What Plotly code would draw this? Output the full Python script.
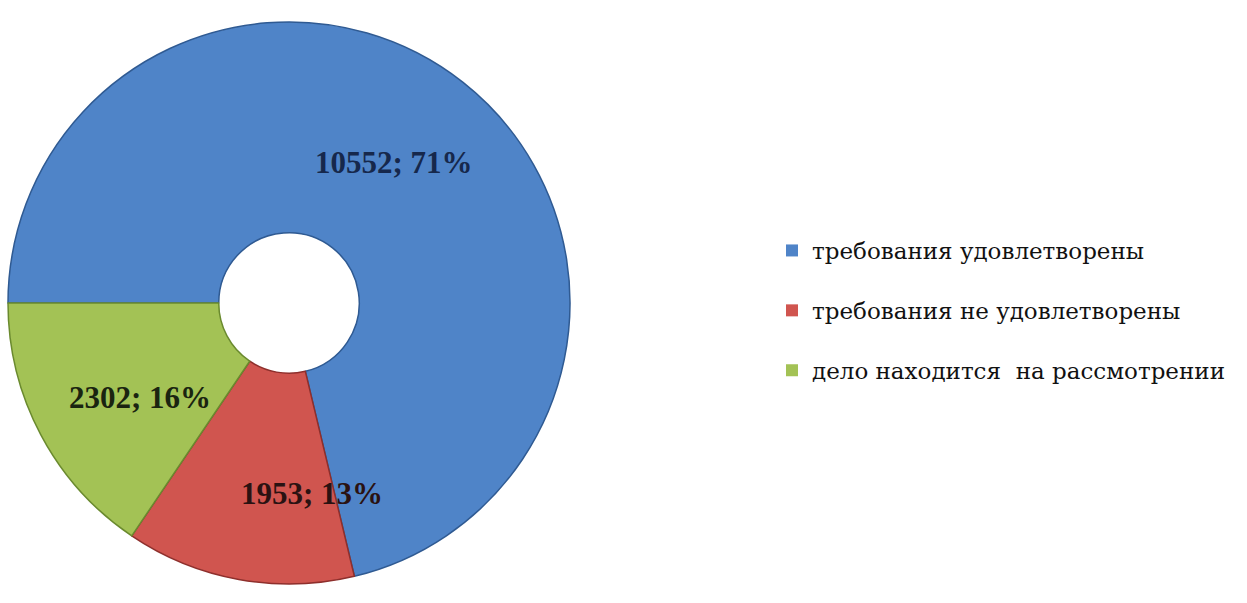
import plotly.graph_objects as go

# Case outcomes
categories = ["требования удовлетворены",
              "требования не удовлетворены",
              "дело находится\u00a0 на рассмотрении"]
counts = [10552, 1953, 2302]
colors = ["#4f84c8", "#d0554f", "#a3c255"]
edge_colors = ["#2f5a92", "#8e2f2c", "#6a8a2e"]
label_colors = ["#16284c", "#2a1212", "#1a2410"]

total = sum(counts)
labels_text = [f"{v}; {round(v / total * 100)}%" for v in counts]

W, H = 1247, 603
SERIF = "Liberation Serif, Times New Roman, serif"
LEGEND_FONT = "DejaVu Serif, serif"

fig = go.Figure()
fig.add_trace(go.Pie(
    labels=categories,
    values=counts,
    hole=0.25,
    sort=False,
    direction="clockwise",
    rotation=270,
    marker=dict(colors=colors, line=dict(color=edge_colors, width=1.5)),
    textinfo="none",
    hoverinfo="label+value+percent",
    showlegend=False,
    domain=dict(x=[8 / W, 570 / W], y=[(H - 586) / H, (H - 20) / H]),
))

# legend entries, one group each so the gap spaces the rows
for name, col in zip(categories, colors):
    fig.add_trace(go.Scatter(
        x=[None], y=[None], mode="markers", name=name,
        legendgroup=name,
        marker=dict(symbol="square", size=12, color=col,
                    line=dict(color=col, width=0)),
    ))

# value labels placed on each slice
label_pos = [(394, 162), (312, 493), (140, 397)]
for txt, (px, py), c in zip(labels_text, label_pos, label_colors):
    fig.add_annotation(
        x=px / W, y=1 - py / H, xref="paper", yref="paper",
        text=f"<b>{txt}</b>", showarrow=False,
        font=dict(family=SERIF, size=31, color=c),
        xanchor="center", yanchor="middle",
    )

fig.update_layout(
    width=W, height=H,
    margin=dict(l=0, r=0, t=0, b=0, autoexpand=False),
    font=dict(family=SERIF),
    paper_bgcolor="white", plot_bgcolor="white",
    xaxis=dict(visible=False), yaxis=dict(visible=False),
    legend=dict(
        x=772 / W, y=1 - 229 / H, xanchor="left", yanchor="top",
        font=dict(family=LEGEND_FONT, size=23, color="#111111"),
        tracegroupgap=27, itemsizing="trace", itemwidth=30,
        bgcolor="rgba(0,0,0,0)",
    ),
)

fig.write_html("out.html")
